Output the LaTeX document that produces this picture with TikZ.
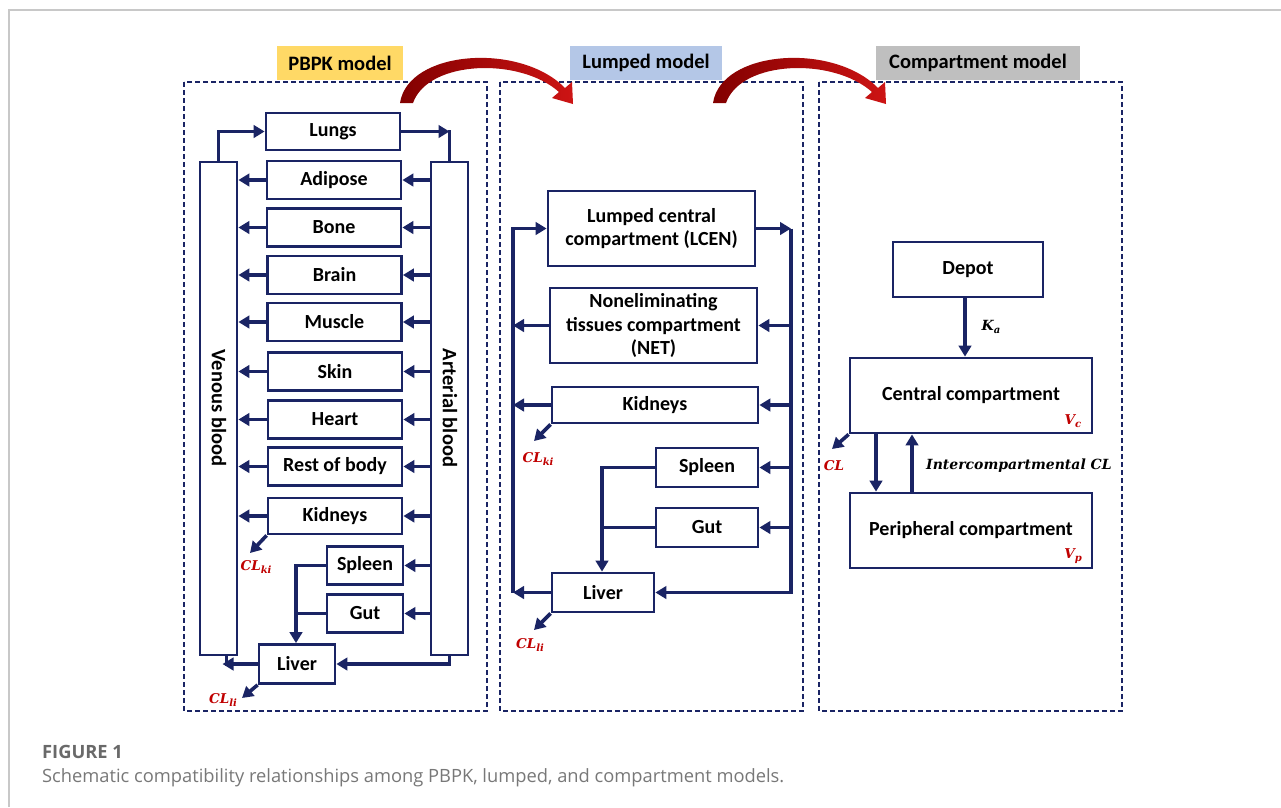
\documentclass[tikz,border=0pt]{standalone}
\usepackage{fontspec}
\setmainfont{Carlito}
\newfontfamily\mlblfont{DejaVu Serif}
\newfontfamily\capfont{Open Sans}
\usetikzlibrary{arrows.meta}
\definecolor{navy}{RGB}{26,36,100}
\definecolor{lblred}{RGB}{192,0,0}
\definecolor{hdryellow}{RGB}{255,217,102}
\definecolor{hdrblue}{RGB}{180,199,231}
\definecolor{hdrgray}{RGB}{191,191,191}
\definecolor{capgray}{RGB}{105,105,105}
\definecolor{captxt}{RGB}{120,120,120}
\definecolor{framegray}{RGB}{200,200,200}
\newcommand{\clbl}[2]{#1\raisebox{-0.35ex}{\fontsize{10}{10}\selectfont #2}}
\tikzset{
  box/.style={draw=navy, line width=2.8pt, fill=white, text=black, inner sep=0pt, align=center,
    font=\fontsize{20}{23.8}\selectfont\bfseries},
  organ/.style={box, minimum width=134pt, minimum height=38pt},
  sbox/.style={box, minimum width=76pt, minimum height=38pt},
  lbox/.style={box, minimum width=102pt, minimum height=39pt},
  conn/.style={draw=navy, line width=3.6pt, -{Triangle[length=11pt,width=12.5pt]}},
  wire/.style={draw=navy, line width=3.6pt, line cap=rect},
  panel/.style={draw=navy, line width=1.4pt, dash pattern=on 5pt off 3pt},
  hdr/.style={inner sep=0pt, minimum height=34pt, text=black, font=\fontsize{20.5}{22}\selectfont\bfseries},
  rlbl/.style={inner sep=0pt, text=lblred, font=\fontsize{13.5}{15}\selectfont\mlblfont\bfseries\itshape},
  klbl/.style={inner sep=0pt, text=black, font=\fontsize{14}{15}\selectfont\mlblfont\bfseries\itshape},
  vtxt/.style={inner sep=0pt, rotate=-90, text=black, font=\fontsize{20.5}{22}\selectfont\bfseries},
}
\begin{document}
\begin{tikzpicture}[x=1pt,y=-1pt]
\useasboundingbox (0,0) rectangle (1281,807);
\fill[white] (0,0) rectangle (1281,807);
\draw[framegray, line width=1.5pt] (9,807) -- (9,10) -- (1281,10);

% panels
\draw[panel] (184,82) rectangle (487,711);
\draw[panel] (500,82) rectangle (803,711);
\draw[panel] (819,82) rectangle (1122,711);

% headers
\node[hdr, fill=hdryellow, minimum width=126pt] (h1) at (340,63) {PBPK model};
\node[hdr, fill=hdrblue, minimum width=152pt] (h2) at (646,63) {Lumped model};
\node[hdr, fill=hdrgray, minimum width=204pt] (h3) at (978,63) {Compartment model};

% red transition arrows
\foreach \s in {0,313} {
  \shade[shift={(\s,0)}, left color={rgb,255:red,130;green,0;blue,0}, right color={rgb,255:red,205;green,20;blue,20}]
    (400,103) .. controls (408,50) and (520,42) .. (565,88) -- (572,82) -- (573,104) -- (552,98) -- (559,92)
    .. controls (520,57) and (428,60) .. (413,103) -- cycle;
}

% ---------------- PBPK panel ----------------
\node[box, minimum width=37pt, minimum height=493pt] (venous) at (218.5,408.5) {};
\node[box, minimum width=37pt, minimum height=493pt] (arterial) at (449.5,408.5) {};
\node[vtxt] (venoustxt) at (219,408) {Venous blood};
\node[vtxt] (arterialtxt) at (450,408) {Arterial blood};

\node[box, minimum width=134pt, minimum height=37pt] (lungs) at (333,131.5) {Lungs};
\node[organ] (adipose) at (334,180) {Adipose};
\node[organ] (bone) at (334,227.5) {Bone};
\node[organ] (brain) at (334.5,275) {Brain};
\node[organ] (muscle) at (334.5,322) {Muscle};
\node[organ] (skin) at (335,371.5) {Skin};
\node[organ] (heart) at (335,419.5) {Heart};
\node[organ] (rest) at (335,466.5) {Rest of body};
\node[organ, minimum height=36pt] (kidneys) at (335,516) {Kidneys};
\node[sbox] (spleen) at (365,565.5) {Spleen};
\node[sbox] (gut) at (365,613.5) {Gut};
\node[sbox, minimum height=39pt] (liver) at (297,664) {Liver};

\foreach \o in {adipose,bone,brain,muscle,skin,heart,rest,kidneys} {
  \draw[conn] (arterial.west |- \o.east) -- (\o.east);
  \draw[conn] (\o.west) -- (venous.east |- \o.west);
}
\foreach \o in {spleen,gut} {
  \draw[conn] (arterial.west |- \o.east) -- (\o.east);
}
\draw[conn] (venous.north) |- (lungs.west);
\draw[wire] (lungs.east -| arterial.north) -- (arterial.north);
\draw[conn] (lungs.east) -- (lungs.east -| arterial.north);

\coordinate (sp1) at ([xshift=-1pt]liver.north);
\draw[conn] (spleen.west) -| (sp1);
\draw[wire] (gut.west) -- (gut.west -| sp1);
\draw[conn] (arterial.south) |- (liver.east);
\coordinate (vs1) at ([xshift=8pt]venous.south);
\draw[wire] (vs1) -- (vs1 |- liver.west);
\draw[conn] (liver.west) -- ([xshift=4pt]liver.west -| venous.south);

\coordinate (ki1end) at (250,553);
\draw[conn] (kidneys.south west) -- (ki1end);
\node[rlbl] (clki1) at (256,567) {\clbl{CL}{ki}};
\coordinate (li1end) at (242,698);
\draw[conn] (liver.south west) -- (li1end);
\node[rlbl] (clli1) at (223,700) {\clbl{CL}{li}};

% ---------------- Lumped panel ----------------
\node[box, minimum width=207pt, minimum height=75pt] (lcen) at (651.5,228.5) {Lumped central\\compartment (LCEN)};
\node[box, minimum width=207pt, minimum height=75pt] (net) at (653.5,325.5) {Noneliminating\\tissues compartment\\(NET)};
\node[box, minimum width=206pt, minimum height=36pt] (kid2) at (655,405) {Kidneys};
\node[lbox] (spl2) at (707,467.5) {Spleen};
\node[lbox] (gut2) at (707,527.5) {Gut};
\node[lbox] (liv2) at (603,592.5) {Liver};

\coordinate (L2) at (513,0);
\coordinate (R2) at (791,0);
\draw[conn] (L2 |- liv2.west) |- (lcen.west);
\draw[conn] (R2 |- lcen.east) |- (liv2.east);
\draw[conn] (lcen.east) -- (R2 |- lcen.east);
\foreach \o in {net,kid2,spl2,gut2} {
  \draw[conn] (R2 |- \o.east) -- (\o.east);
}
\foreach \o in {net,kid2,liv2} {
  \draw[conn] (\o.west) -- (L2 |- \o.west);
}
\coordinate (sp2) at ([xshift=-1pt]liv2.north);
\draw[conn] (spl2.west) -| (sp2);
\draw[wire] (gut2.west) -- (gut2.west -| sp2);

\coordinate (ki2end) at (534,441);
\draw[conn] (kid2.south west) -- (ki2end);
\node[rlbl] (clki2) at (538,459) {\clbl{CL}{ki}};
\coordinate (li2end) at (534,630);
\draw[conn] (liv2.south west) -- (li2end);
\node[rlbl] (clli2) at (530,645) {\clbl{CL}{li}};

% ---------------- Compartment panel ----------------
\node[box, minimum width=150pt, minimum height=55pt] (depot) at (968,269.5) {Depot};
\node[box, minimum width=242pt, minimum height=75pt] (central) at (971,395.5) {Central compartment};
\node[box, minimum width=242pt, minimum height=75pt] (periph) at (971,530.5) {Peripheral compartment};

\coordinate (ka) at (965,0);
\draw[conn] (depot.south -| ka) -- (central.north -| ka);
\node[klbl] (kalbl) at (991,327) {\clbl{K}{a}};
\coordinate (dn) at (876,0);
\coordinate (up) at (912,0);
\draw[conn] (central.south -| dn) -- (periph.north -| dn);
\draw[conn] (periph.north -| up) -- (central.south -| up);
\node[klbl, anchor=west] (icl) at (926,466) {Intercompartmental CL};
\coordinate (clend) at (832,449);
\draw[conn] (central.south west) -- (clend);
\node[rlbl] (cl3) at (834,466) {CL};
\node[rlbl] (vc) at (1073,421) {\clbl{V}{c}};
\node[rlbl] (vp) at (1073,556) {\clbl{V}{p}};

% caption
\node[anchor=base west, inner sep=0pt, text=capgray, font=\fontsize{18.3}{20}\selectfont\capfont\bfseries] (figlbl) at (42,758) {FIGURE 1};
\node[anchor=base west, inner sep=0pt, text=captxt, font=\fontsize{18.3}{20}\selectfont\capfont] (caption) at (42,782) {Schematic compatibility relationships among PBPK, lumped, and compartment models.};
\end{tikzpicture}
\end{document}
